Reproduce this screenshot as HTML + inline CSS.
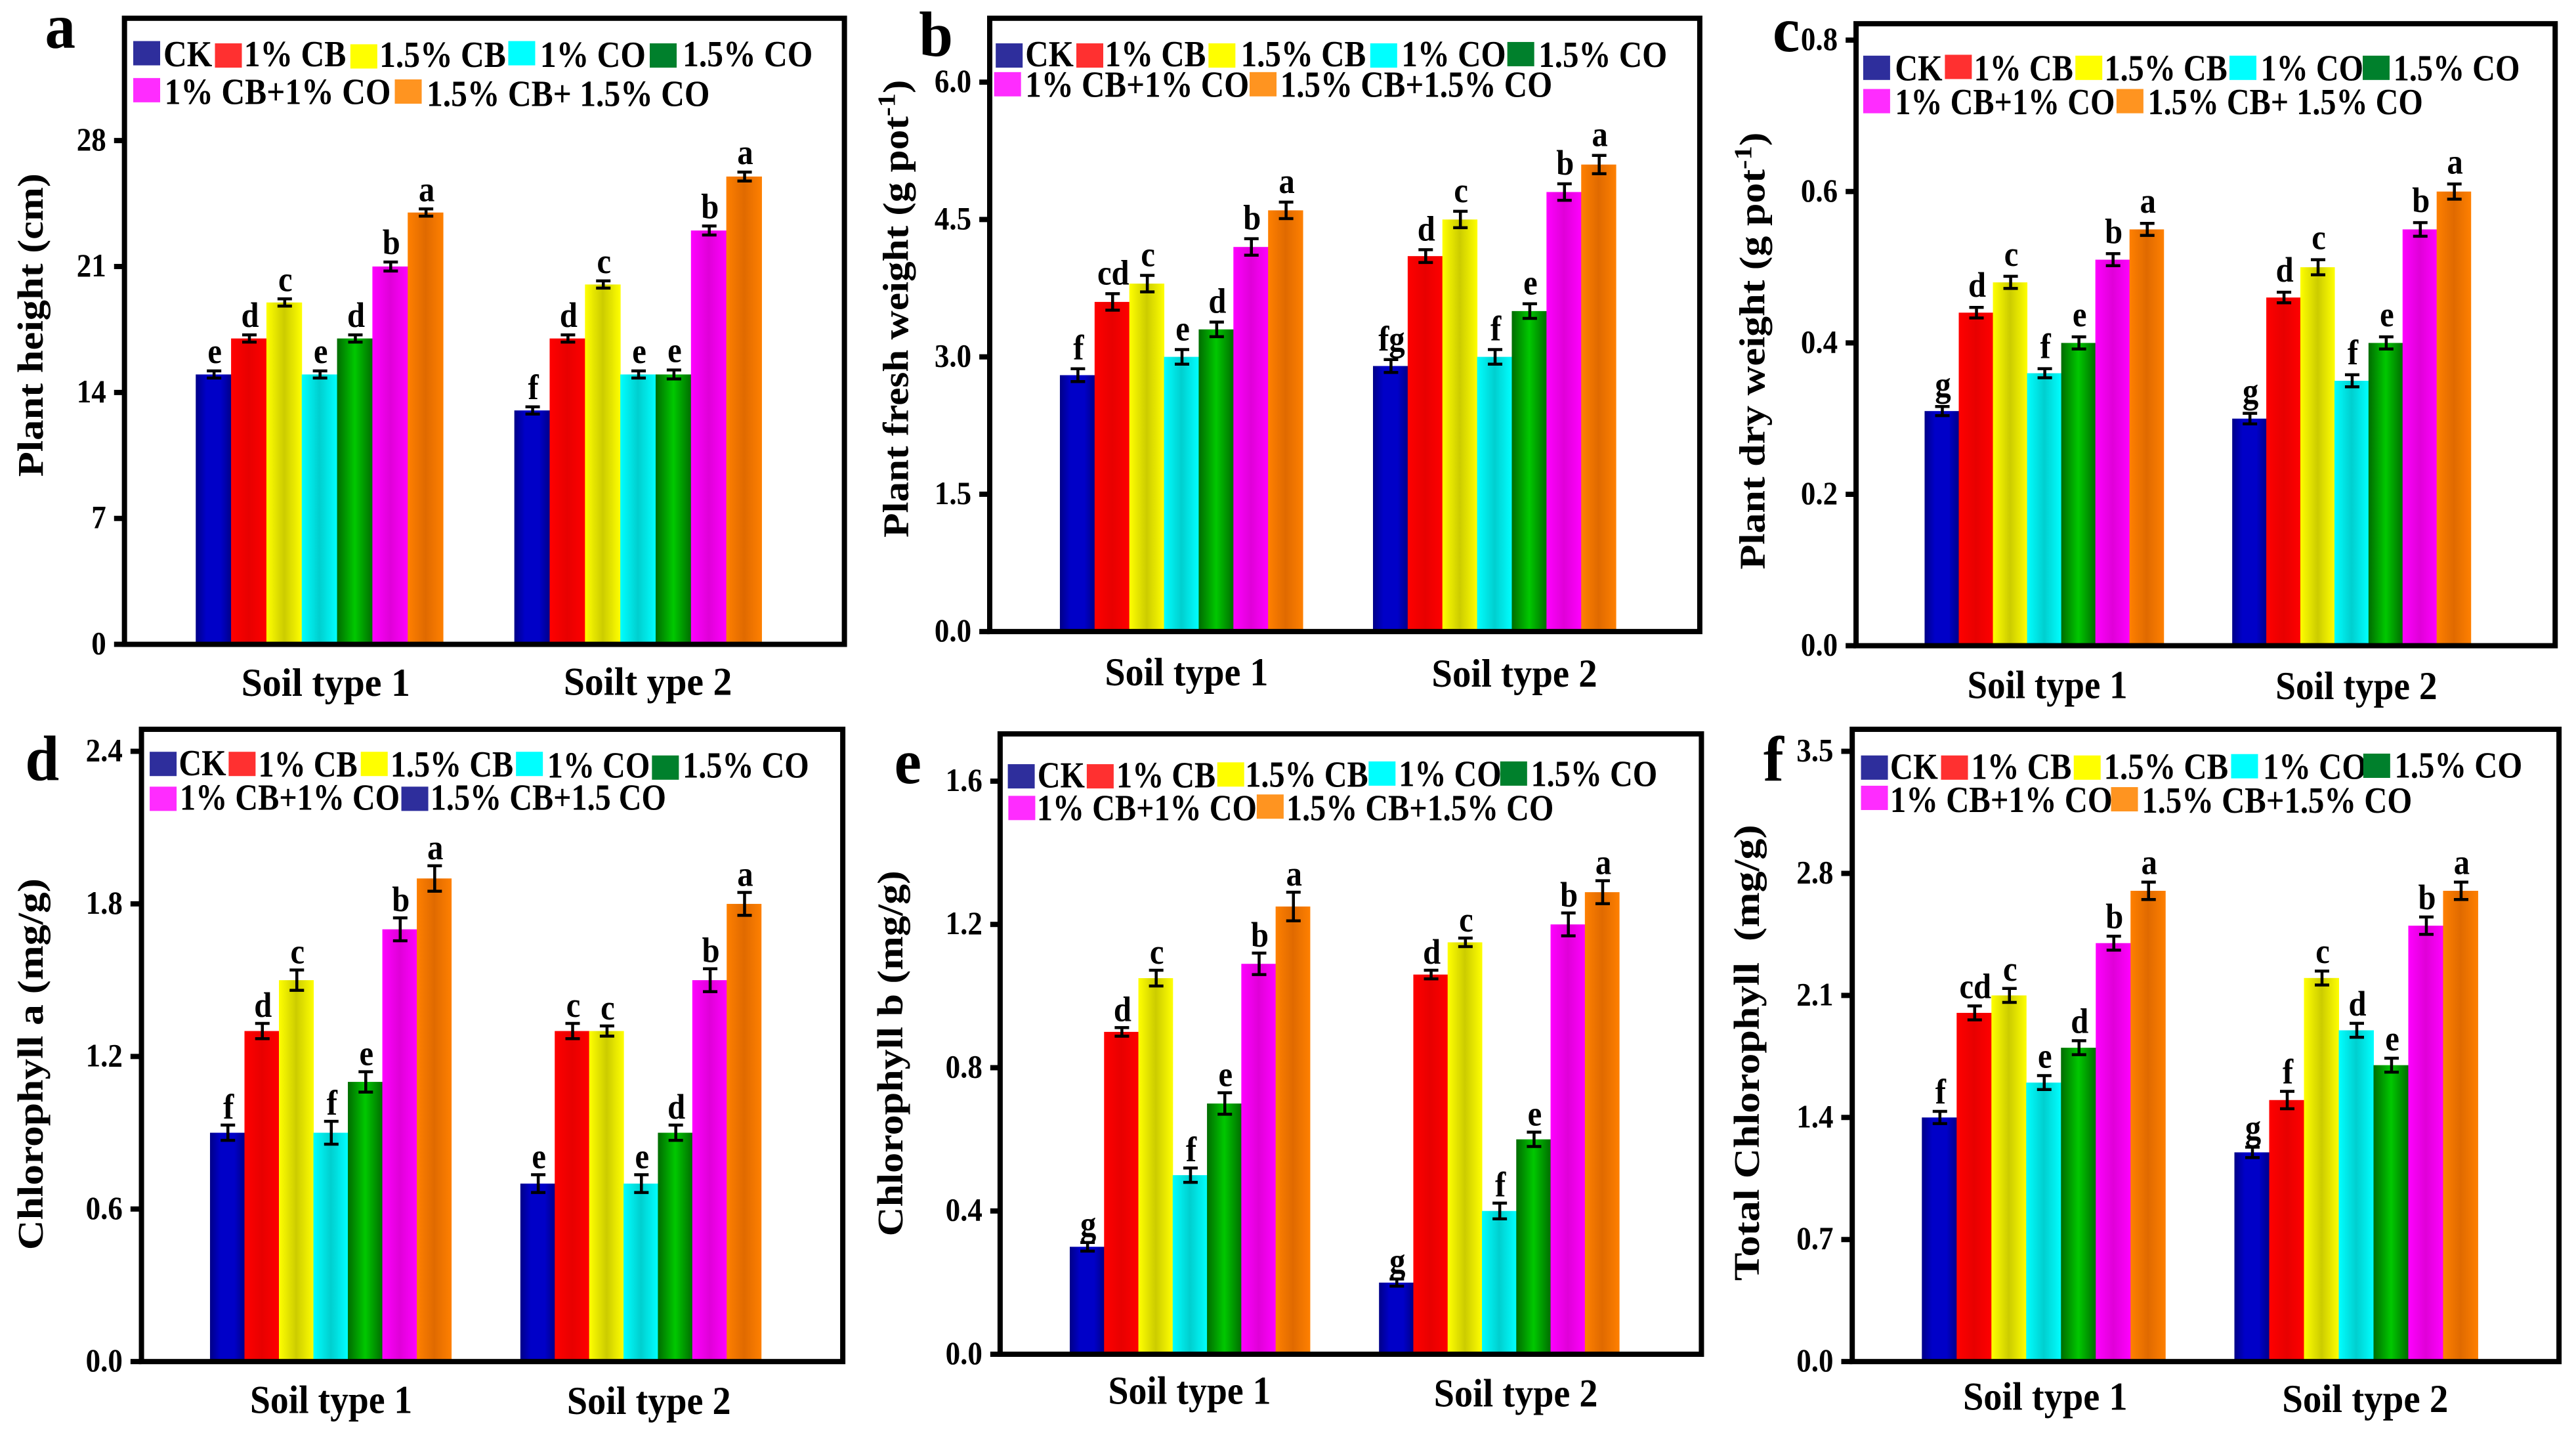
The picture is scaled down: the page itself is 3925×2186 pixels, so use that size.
<!DOCTYPE html>
<html lang="en">
<head>
<meta charset="utf-8">
<title>Plant growth and chlorophyll bar charts</title>
<style>
html,body{margin:0;padding:0;background:#fff;}
svg{display:block;}
text{font-family:"Liberation Serif","Times New Roman",serif;font-weight:700;fill:#000;}
</style>
</head>
<body>
<svg id="figure" xmlns="http://www.w3.org/2000/svg" width="3925" height="2186" viewBox="0 0 3925 2186">
<rect x="0" y="0" width="3925" height="2186" fill="#ffffff"/>
<defs>
<linearGradient id="grad-0"><stop offset="0" stop-color="#000088"/><stop offset=".3" stop-color="#0000c8"/><stop offset=".7" stop-color="#0000c8"/><stop offset="1" stop-color="#000088"/></linearGradient>
<linearGradient id="grad-1"><stop offset="0" stop-color="#ff0000"/><stop offset=".5" stop-color="#e80000"/><stop offset="1" stop-color="#ff0000"/></linearGradient>
<linearGradient id="grad-2"><stop offset="0" stop-color="#ffff00"/><stop offset=".5" stop-color="#cccc00"/><stop offset="1" stop-color="#ffff00"/></linearGradient>
<linearGradient id="grad-3"><stop offset="0" stop-color="#00ffff"/><stop offset=".5" stop-color="#00cfcf"/><stop offset="1" stop-color="#00ffff"/></linearGradient>
<linearGradient id="grad-4"><stop offset="0" stop-color="#006c00"/><stop offset=".5" stop-color="#00c800"/><stop offset="1" stop-color="#006c00"/></linearGradient>
<linearGradient id="grad-5"><stop offset="0" stop-color="#ff00ff"/><stop offset=".5" stop-color="#e000d8"/><stop offset="1" stop-color="#ff00ff"/></linearGradient>
<linearGradient id="grad-6"><stop offset="0" stop-color="#ff8000"/><stop offset=".5" stop-color="#e06a00"/><stop offset="1" stop-color="#ff8000"/></linearGradient>
</defs>
</svg>
<script>
// ---------- chart data ----------
const treatments = ['CK','1% CB','1.5% CB','1% CO','1.5% CO','1% CB+1% CO','1.5% CB+1.5% CO'];

const heightTicks = ['0','7','14','21','28'];
const heightSoil1 = [15,17,19,15,17,21,24];
const heightSoil2 = [13,17,20,15,15,23,26];
const heightErr1 = [0.2,0.2,0.2,0.2,0.2,0.25,0.2];
const heightErr2 = [0.2,0.2,0.2,0.2,0.25,0.25,0.25];
const heightLetters1 = ['e','d','c','e','d','b','a'];
const heightLetters2 = ['f','d','c','e','e','b','a'];
const heightGroups = ['Soil type 1','Soilt ype 2'];
const heightLegend = ['CK','1% CB','1.5% CB','1% CO','1.5% CO','1% CB+1% CO','1.5% CB+ 1.5% CO'];

const freshTicks = ['0.0','1.5','3.0','4.5','6.0'];
const freshSoil1 = [2.8,3.6,3.8,3.0,3.3,4.2,4.6];
const freshSoil2 = [2.9,4.1,4.5,3.0,3.5,4.8,5.1];
const freshErr1 = [0.07,0.09,0.09,0.08,0.08,0.09,0.09];
const freshErr2 = [0.07,0.07,0.09,0.08,0.08,0.09,0.1];
const freshLetters1 = ['f','cd','c','e','d','b','a'];
const freshLetters2 = ['fg','d','c','f','e','b','a'];
const freshGroups = ['Soil type 1','Soil type 2'];
const freshLegend = ['CK','1% CB','1.5% CB','1% CO','1.5% CO','1% CB+1% CO','1.5% CB+1.5% CO'];

const dryTicks = ['0.0','0.2','0.4','0.6','0.8'];
const drySoil1 = [0.31,0.44,0.48,0.36,0.40,0.51,0.55];
const drySoil2 = [0.30,0.46,0.50,0.35,0.40,0.55,0.60];
const dryErr1 = [0.006,0.007,0.008,0.006,0.008,0.008,0.008];
const dryErr2 = [0.007,0.007,0.01,0.008,0.008,0.009,0.01];
const dryLetters1 = ['g','d','c','f','e','b','a'];
const dryLetters2 = ['g','d','c','f','e','b','a'];
const dryGroups = ['Soil type 1','Soil type 2'];
const dryLegend = ['CK','1% CB','1.5% CB','1% CO','1.5% CO','1% CB+1% CO','1.5% CB+ 1.5% CO'];

const chlATicks = ['0.0','0.6','1.2','1.8','2.4'];
const chlASoil1 = [0.9,1.3,1.5,0.9,1.1,1.7,1.9];
const chlASoil2 = [0.7,1.3,1.3,0.7,0.9,1.5,1.8];
const chlAErr1 = [0.03,0.03,0.04,0.045,0.04,0.045,0.05];
const chlAErr2 = [0.035,0.03,0.02,0.035,0.03,0.045,0.045];
const chlALetters1 = ['f','d','c','f','e','b','a'];
const chlALetters2 = ['e','c','c','e','d','b','a'];
const chlAGroups = ['Soil type 1','Soil type 2'];
const chlALegend = ['CK','1% CB','1.5% CB','1% CO','1.5% CO','1% CB+1% CO','1.5% CB+1.5 CO'];

const chlBTicks = ['0.0','0.4','0.8','1.2','1.6'];
const chlBSoil1 = [0.3,0.9,1.05,0.5,0.7,1.09,1.25];
const chlBSoil2 = [0.2,1.06,1.15,0.4,0.6,1.2,1.29];
const chlBErr1 = [0.012,0.012,0.022,0.02,0.03,0.03,0.04];
const chlBErr2 = [0.01,0.012,0.012,0.022,0.02,0.032,0.032];
const chlBLetters1 = ['g','d','c','f','e','b','a'];
const chlBLetters2 = ['g','d','c','f','e','b','a'];
const chlBGroups = ['Soil type 1','Soil type 2'];
const chlBLegend = ['CK','1% CB','1.5% CB','1% CO','1.5% CO','1% CB+1% CO','1.5% CB+1.5% CO'];

const totalTicks = ['0.0','0.7','1.4','2.1','2.8','3.5'];
const totalSoil1 = [1.4,2.0,2.1,1.6,1.8,2.4,2.7];
const totalSoil2 = [1.2,1.5,2.2,1.9,1.7,2.5,2.7];
const totalErr1 = [0.035,0.04,0.04,0.04,0.04,0.04,0.05];
const totalErr2 = [0.03,0.05,0.04,0.04,0.04,0.05,0.05];
const totalLetters1 = ['f','cd','c','e','d','b','a'];
const totalLetters2 = ['g','f','c','d','e','b','a'];
const totalGroups = ['Soil type 1','Soil type 2'];
const totalLegend = ['CK','1% CB','1.5% CB','1% CO','1.5% CO','1% CB+1% CO','1.5% CB+1.5% CO'];

// ---------- styling ----------
const swatchColors = ['#2e2e9c','#ff3030','#ffff00','#00ffff','#00802c','#ff2cff','#ff9420'];

// ---------- panel layout (measured on a 1568-unit crop of each 1310-wide cell) ----------
const panels = [
 {key:'a', name:'plant-height', letter:'a', ox:0, oy:0, rowH:1090,
  frame:[227,40,1540,1412], tickLeft:208, topTickY:308,
  groupSpans:[[357,808],[938,1389]], letterGap:10, legendSx:0.885,
  letterPos:[82,105], title:'Plant height (cm)', titleSpan:[380,1045], titleX:78,
  xLabels:[[440,748,1525],[1028,1335,1523]],
  legend:[[243,90,298,145],[392,95,445,145],[639,97,692,147],[927,90,985,147],[1185,95,1245,145],[243,171,300,228],[720,174,778,232]],
  ticks:heightTicks, s1:heightSoil1, s2:heightSoil2, e1:heightErr1, e2:heightErr2, l1:heightLetters1, l2:heightLetters2, groups:heightGroups, legendText:heightLegend},
 {key:'b', name:'plant-fresh-weight', letter:'b', ox:1310, oy:0, rowH:1090,
  frame:[237,40,1532,1384], tickLeft:218, topTickY:180,
  groupSpans:[[365,808],[936,1379]], letterGap:12, legendSx:0.875,
  letterPos:[108,122], title:'Plant fresh weight (g pot', titleSup:true, titleSpan:[175,1178], titleX:88,
  xLabels:[[447,745,1502],[1043,1345,1505]],
  legend:[[248,95,302,145],[395,95,447,145],[636,95,695,145],[931,95,988,145],[1181,92,1238,147],[245,158,302,212],[711,158,767,212]],
  ticks:freshTicks, s1:freshSoil1, s2:freshSoil2, e1:freshErr1, e2:freshErr2, l1:freshLetters1, l2:freshLetters2, groups:freshGroups, legendText:freshLegend},
 {key:'c', name:'plant-dry-weight', letter:'c', ox:2615, oy:0, rowH:1090,
  frame:[255,52,1530,1415], tickLeft:236, topTickY:88,
  groupSpans:[[380,816],[941,1376]], letterGap:14, legendSx:0.86,
  letterPos:[103,112], title:'Plant dry weight (g pot', titleSup:true, titleSpan:[290,1248], titleX:88,
  xLabels:[[458,750,1530],[1020,1315,1532]],
  legend:[[268,122,326,176],[417,120,470,176],[655,122,708,176],[936,122,993,176],[1179,122,1235,176],[268,195,326,250],[730,195,787,250]],
  ticks:dryTicks, s1:drySoil1, s2:drySoil2, e1:dryErr1, e2:dryErr2, l1:dryLetters1, l2:dryLetters2, groups:dryGroups, legendText:dryLegend},
 {key:'d', name:'chlorophyll-a', letter:'d', ox:0, oy:1090, rowH:1096,
  frame:[258,30,1537,1408], tickLeft:238, topTickY:78,
  groupSpans:[[383,823],[949,1388]], letterGap:8, legendSx:0.86,
  letterPos:[46,140], title:'Chlorophyll a (mg/g)', titleSpan:[355,1165], titleX:78,
  xLabels:[[456,752,1520],[1034,1333,1522]],
  legend:[[273,79,326,130],[417,79,471,133],[658,79,712,133],[941,79,998,135],[1189,87,1245,135],[273,155,328,205],[732,155,785,205]],
  legendOverride:{6:'#2e2e9c'},
  ticks:chlATicks, s1:chlASoil1, s2:chlASoil2, e1:chlAErr1, e2:chlAErr2, l1:chlALetters1, l2:chlALetters2, groups:chlAGroups, legendText:chlALegend},
 {key:'e', name:'chlorophyll-b', letter:'e', ox:1310, oy:1090, rowH:1096,
  frame:[256,40,1535,1392], tickLeft:238, topTickY:143,
  groupSpans:[[383,821],[947,1385]], letterGap:8, legendSx:0.86,
  letterPos:[63,147], title:'Chlorophyll b (mg/g)', titleSpan:[338,1135], titleX:78,
  xLabels:[[453,750,1500],[1047,1346,1506]],
  legend:[[270,106,324,157],[414,106,468,157],[652,102,703,155],[928,100,983,154],[1168,100,1224,154],[271,175,323,228],[724,172,778,228]],
  ticks:chlBTicks, s1:chlBSoil1, s2:chlBSoil2, e1:chlBErr1, e2:chlBErr2, l1:chlBLetters1, l2:chlBLetters2, groups:chlBGroups, legendText:chlBLegend},
 {key:'f', name:'total-chlorophyll', letter:'f', ox:2615, oy:1090, rowH:1096,
  frame:[248,30,1537,1408], tickLeft:228, topTickY:78,
  groupSpans:[[375,819],[945,1389]], letterGap:10, legendSx:0.87,
  letterPos:[86,142], title:'Total Chlorophyll\u00a0 (mg/g)', titleSpan:[238,1232], titleX:78,
  xLabels:[[450,750,1513],[1032,1335,1518]],
  legend:[[264,87,317,138],[410,87,465,138],[652,87,707,138],[939,84,997,138],[1180,83,1237,135],[264,153,317,210],[720,156,776,212]],
  ticks:totalTicks, s1:totalSoil1, s2:totalSoil2, e1:totalErr1, e2:totalErr2, l1:totalLetters1, l2:totalLetters2, groups:totalGroups, legendText:totalLegend}
];

// ---------- drawing helpers ----------
const NS = 'http://www.w3.org/2000/svg';
const root = document.getElementById('figure');

function mk(tag, parent, attrs) {
  const el = document.createElementNS(NS, tag);
  for (const k in attrs) el.setAttribute(k, attrs[k]);
  parent.appendChild(el);
  return el;
}
function label(parent, str, x, y, size, sx, anchor) {
  const el = mk('text', parent, {
    transform: 'translate(' + x + ' ' + y + ') scale(' + sx + ' 1)',
    'font-size': size,
    'text-anchor': anchor || 'start'
  });
  el.textContent = str;
  return el;
}

const FX = 1310 / 1568;

panels.forEach(function (p) {
  const fy = p.rowH / 1568;
  const px = function (v) { return p.ox + v * FX; };
  const py = function (v) { return p.oy + v * fy; };

  const panel = mk('g', root, {});
  
  

  const L = px(p.frame[0]), T = py(p.frame[1]), R = px(p.frame[2]), B = py(p.frame[3]);
  const yMaxValue = parseFloat(p.ticks[p.ticks.length - 1]);
  const yTop = py(p.topTickY);
  const yScale = function (v) { return B - (v / yMaxValue) * (B - yTop); };
  const xBar = function (groupIndex, seriesIndex) {
    const span = p.groupSpans[groupIndex];
    const w = (span[1] - span[0]) / treatments.length;
    return px(span[0] + seriesIndex * w);
  };
  const barWidth = (p.groupSpans[0][1] - p.groupSpans[0][0]) / treatments.length * FX;

  // bars, error bars, significance letters
  [[p.s1, p.e1, p.l1], [p.s2, p.e2, p.l2]].forEach(function (set, g) {
    const values = set[0], errs = set[1], letters = set[2];
    values.forEach(function (v, i) {
      const x = xBar(g, i);
      const bar = mk('rect', panel, {
        x: x, y: yScale(v), width: barWidth + 0.5, height: B - yScale(v),
        fill: 'url(#grad-' + i + ')'
      });
      
      

      const cx = x + barWidth / 2 + 1;
      const hi = yScale(v + errs[i]);
      const lo = yScale(v - errs[i]);
      const err = mk('path', panel, {
        d: 'M' + (cx - 11) + ' ' + hi + 'H' + (cx + 11) + 'M' + cx + ' ' + hi + 'V' + lo + 'M' + (cx - 11) + ' ' + lo + 'H' + (cx + 11),
        stroke: '#000', 'stroke-width': 4.5, fill: 'none'
      });
      
      

      const sig = label(panel, letters[i], cx + 1, hi - 2 - p.letterGap, 54, 0.9, 'middle');
      
      
    });
  });

  // frame
  const frame = mk('rect', panel, {
    x: L, y: T, width: R - L, height: B - T,
    fill: 'none', stroke: '#000', 'stroke-width': 8
  });
  
  

  // y ticks + labels
  const tickLeft = px(p.tickLeft);
  p.ticks.forEach(function (t) {
    const y = yScale(parseFloat(t));
    const tick = mk('line', panel, {
      x1: tickLeft, x2: L, y1: y, y2: y, stroke: '#000', 'stroke-width': 8
    });
    
    
    const tl = label(panel, t, tickLeft - 12, y + 15, 50, 0.9, 'end');
    
    
  });

  // y title
  const ty0 = py(p.titleSpan[1]), ty1 = py(p.titleSpan[0]);
  const title = mk('text', panel, {
    transform: 'translate(' + px(p.titleX) + ' ' + ty0 + ') rotate(-90)',
    'font-size': 55,
    textLength: ty0 - ty1,
    lengthAdjust: 'spacingAndGlyphs'
  });
  
  
  if (p.titleSup) {
    title.appendChild(document.createTextNode(p.title));
    const sup = mk('tspan', title, {dy: -20, 'font-size': 38});
    sup.textContent = '-1';
    const close = mk('tspan', title, {dy: 20});
    close.textContent = ')';
  } else {
    title.textContent = p.title;
  }

  // x labels
  p.xLabels.forEach(function (xl, i) {
    const lab = mk('text', panel, {
      x: px(xl[0]), y: py(xl[2]), 'font-size': 60,
      textLength: (xl[1] - xl[0]) * FX, lengthAdjust: 'spacingAndGlyphs'
    });
    lab.textContent = p.groups[i];
    
    
  });

  // panel letter
  const pl = label(panel, p.letter, px(p.letterPos[0]), py(p.letterPos[1]), 98, 0.95);
  
  

  // legend
  const legend = mk('g', panel, {});
  
  
  p.legend.forEach(function (pos, i) {
    const colour = (p.legendOverride && p.legendOverride[i]) || swatchColors[i];
    const sw = mk('rect', legend, {
      x: px(pos[0]), y: py(pos[1]), width: 41, height: 37, fill: colour
    });
    
    
    const lt = label(legend, p.legendText[i], px(pos[2]), py(pos[3]), 56, p.legendSx);
    
    
  });
});
</script>
</body>
</html>
